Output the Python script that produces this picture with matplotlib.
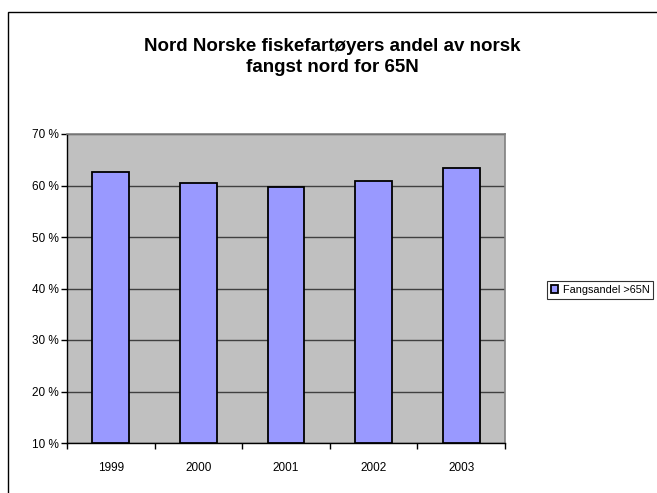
import matplotlib
matplotlib.use("Agg")
import matplotlib.pyplot as plt
from matplotlib.patches import Rectangle

plt.rcParams["font.family"] = ["Liberation Sans", "DejaVu Sans"]

# data
years = ["1999", "2000", "2001", "2002", "2003"]
andel = [62.7, 60.4, 59.7, 60.8, 63.4]
series_name = "Fangsandel >65N"
title = "Nord Norske fiskefartøyers andel av norsk\nfangst nord for 65N"
yticks = [10, 20, 30, 40, 50, 60, 70]

W, H = 657, 493
fig = plt.figure(figsize=(W / 100, H / 100), dpi=100)

# outer chart border (runs off the bottom/right edge like the source)
fig.patches.append(Rectangle((8 / W, -0.05), 1.2, 1 - 12 / H + 0.05,
                             transform=fig.transFigure, fill=False,
                             edgecolor="black", lw=1.0))

ax = fig.add_axes([67 / W, 1 - 443 / H, (505 - 67) / W, (443 - 134) / H])
ax.set_facecolor("#C0C0C0")

x = list(range(len(years)))
ax.bar(x, [v - 10 for v in andel], bottom=10, width=0.42, color="#9999FF",
       edgecolor="black", lw=1.3, zorder=3, label=series_name)

ax.set_xlim(-0.5, len(years) - 0.5)
ax.set_ylim(10, 70)
ax.set_yticks(yticks)
ax.set_yticklabels([f"{t} %" for t in yticks], fontsize=8.5)
ax.set_xticks(x)
ax.set_xticklabels(years, fontsize=8.5)
ax.set_xticks([i - 0.5 for i in range(len(years) + 1)], minor=True)
ax.tick_params(axis="x", which="major", length=0, pad=14)
ax.tick_params(axis="x", which="minor", length=4, width=1, direction="out")
ax.tick_params(axis="y", length=4, width=1, pad=2)
ax.grid(axis="y", color="#404040", lw=1.0, zorder=1)
ax.set_axisbelow(True)

for s in ["top", "right"]:
    ax.spines[s].set_color("#808080")
    ax.spines[s].set_linewidth(1.2)
for s in ["left", "bottom"]:
    ax.spines[s].set_color("black")
    ax.spines[s].set_linewidth(1.0)

fig.text(332 / W, 1 - 57 / H, title, ha="center", va="center",
         fontsize=13.5, fontweight="bold", linespacing=1.3)

leg = fig.legend(loc="center left", bbox_to_anchor=(547 / W, 1 - 290 / H),
                 fontsize=7.8, frameon=True, fancybox=False, edgecolor="black",
                 handlelength=0.7, handleheight=0.7, handletextpad=0.4,
                 borderpad=0.35, borderaxespad=0)
leg.get_frame().set_linewidth(0.8)

fig.savefig("out.png", dpi=100)
